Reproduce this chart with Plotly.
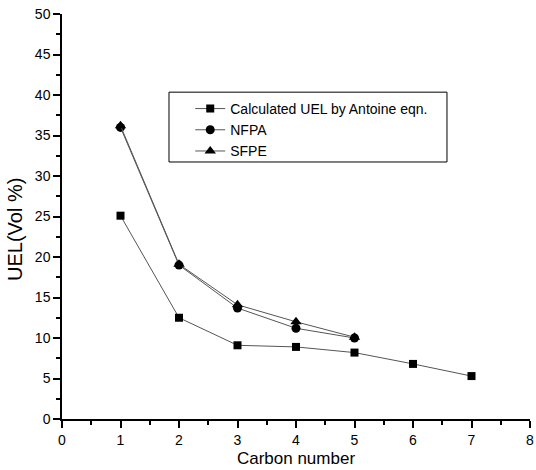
import plotly.graph_objects as go

carbon_calc = [1, 2, 3, 4, 5, 6, 7]
uel_calc = [25.1, 12.5, 9.1, 8.9, 8.2, 6.8, 5.3]
carbon_exp = [1, 2, 3, 4, 5]
uel_nfpa = [36.0, 19.0, 13.7, 11.2, 10.0]
uel_sfpe = [36.2, 19.1, 14.1, 12.0, 10.1]

names = ["Calculated UEL by Antoine eqn.", "NFPA", "SFPE"]

FONT = "Liberation Sans, Arial"

fig = go.Figure()
fig.add_trace(go.Scatter(x=carbon_calc, y=uel_calc, name=names[0], mode="lines+markers",
                         line=dict(color="#555555", width=1),
                         marker=dict(symbol="square", size=8, color="black")))
fig.add_trace(go.Scatter(x=carbon_exp, y=uel_nfpa, name=names[1], mode="lines+markers",
                         line=dict(color="#555555", width=1),
                         marker=dict(symbol="circle", size=9, color="black")))
fig.add_trace(go.Scatter(x=carbon_exp, y=uel_sfpe, name=names[2], mode="lines+markers",
                         line=dict(color="#555555", width=1),
                         marker=dict(symbol="triangle-up", size=10, color="black")))

axis_common = dict(showgrid=False, zeroline=False, showline=True, linecolor="black", linewidth=1.5,
                   ticks="outside", ticklen=7, tickwidth=1.5, tickcolor="black",
                   ticklabeloverflow="allow",
                   tickfont=dict(family=FONT, size=14, color="black"))

fig.update_xaxes(range=[0, 8], dtick=1, tick0=0,
                 minor=dict(dtick=0.5, ticks="outside", ticklen=4, tickwidth=1.5, tickcolor="black"),
                 title=dict(text="Carbon number", font=dict(family=FONT, size=17, color="black"), standoff=6),
                 **axis_common)
fig.update_yaxes(range=[0, 50], dtick=5, tick0=0,
                 minor=dict(dtick=2.5, ticks="outside", ticklen=4, tickwidth=1.5, tickcolor="black"),
                 **axis_common)

# legend frame
fig.add_shape(type="rect", xref="paper", yref="paper",
              x0=0.2286, x1=0.8226, y0=0.6346, y1=0.807,
              line=dict(color="black", width=1), fillcolor="white", layer="below")

fig.add_annotation(text="UEL(Vol %)", xref="paper", yref="paper", x=-0.1004, y=0.4667,
                   xanchor="center", yanchor="middle", textangle=-90, showarrow=False,
                   font=dict(family=FONT, size=20, color="black"))

fig.update_layout(
    width=536, height=470,
    margin=dict(l=62, r=6, t=14, b=51, autoexpand=False),
    plot_bgcolor="white", paper_bgcolor="white",
    showlegend=True,
    legend=dict(x=0.274, y=0.805, xanchor="left", yanchor="top",
                borderwidth=0, bgcolor="rgba(0,0,0,0)",
                font=dict(family=FONT, size=14, color="black"),
                tracegroupgap=0),
)

fig.write_html("out.html", config={"displayModeBar": False},
               post_script="document.body.style.margin='0';")
